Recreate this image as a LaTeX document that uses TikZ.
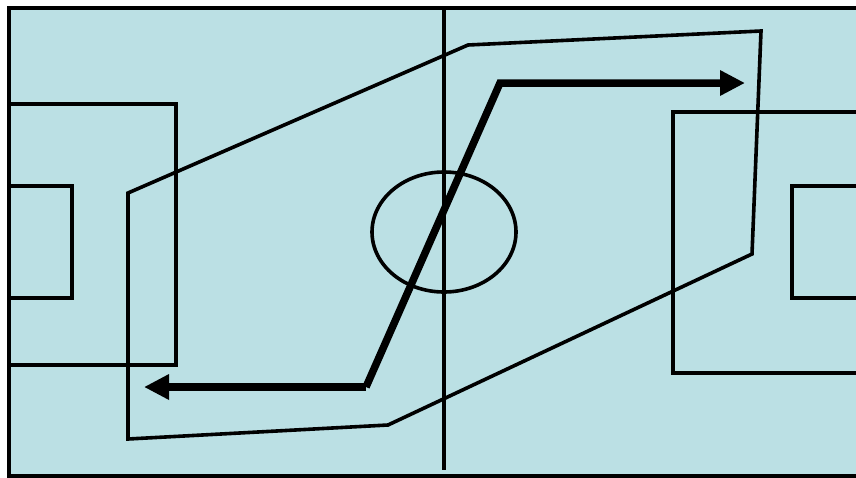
\documentclass[tikz,border=0pt]{standalone}
\usetikzlibrary{arrows.meta}
\definecolor{pitch}{RGB}{187,224,228}
\begin{document}
\begin{tikzpicture}[x=1pt,y=-1pt,
  thinline/.style={line width=3.6pt,line join=miter},
  runline/.style={line width=7.5pt,line join=miter,-{Triangle[length=25pt,width=24pt]}}]
\useasboundingbox (0,0) rectangle (856,477);
\fill[white] (0,0) rectangle (856,477);
\fill[pitch] (9,8) rectangle (856,477);
% border
\draw[line width=4.5pt] (860,8) -- (9,8) -- (9,476.5) -- (860,476.5);
% halfway line and centre circle
\draw[thinline] (444,8) -- (444,470);
\draw[thinline] (444,232) ellipse [x radius=72, y radius=60];
% left boxes
\draw[thinline] (9,104) -- (176,104) -- (176,365) -- (9,365);
\draw[thinline] (9,186) -- (72,186) -- (72,298) -- (9,298);
% right boxes
\draw[thinline] (860,112) -- (673,112) -- (673,373) -- (860,373);
\draw[thinline] (860,186) -- (792,186) -- (792,298) -- (860,298);
% movement loop
\coordinate (p1) at (128,193);
\coordinate (p2) at (468,45);
\coordinate (p3) at (761,31);
\coordinate (p4) at (752,254);
\coordinate (p5) at (388,425);
\coordinate (p6) at (128,439);
\draw[thinline] (p1) -- (p2) -- (p3) -- (p4) -- (p5) -- (p6) -- cycle;
% thick run
\coordinate (a) at (366,387);
\coordinate (b) at (500,83);
\coordinate (ta) at (144,387);
\coordinate (tb) at (745,83);
\draw[runline] (a) -- (ta);
\draw[runline] (a) -- (b) -- (tb);
\end{tikzpicture}
\end{document}
